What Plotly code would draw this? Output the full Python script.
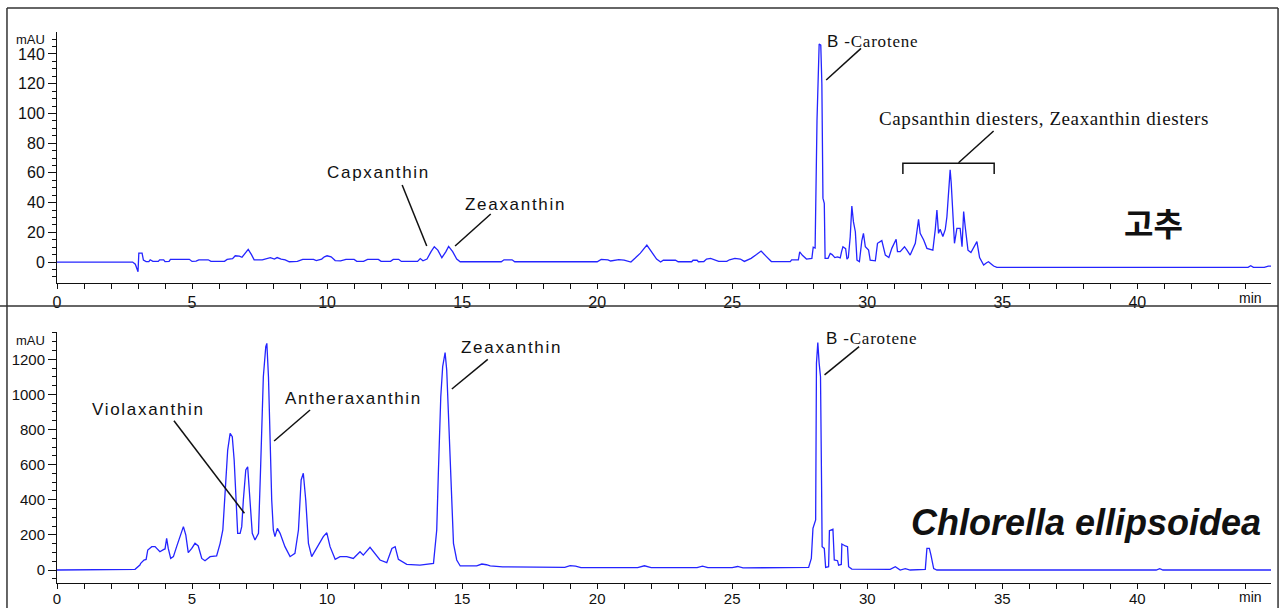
import plotly.graph_objects as go

# --- Chromatogram of red pepper extract (고추), absorbance in mAU ---
time_pepper = [
    0, 2.8, 2.9, 3.0, 3.03, 3.15, 3.2, 3.3, 3.4, 3.45, 3.55, 3.75, 3.8, 3.95, 4.0, 4.15, 4.2, 4.9,
    5.0, 5.15, 5.25, 5.6, 5.7, 6.2, 6.3, 6.5, 6.6, 6.75, 6.85, 7.0, 7.08, 7.2, 7.3, 7.6, 7.75, 7.9,
    8.05, 8.15, 8.3, 8.45, 8.6, 8.9, 9.1, 9.5, 9.6, 9.8, 9.9, 10.0, 10.15, 10.3, 10.5, 10.7, 11.0,
    11.1, 11.35, 11.5, 11.9, 12.0, 12.35, 12.45, 12.65, 12.75, 13.35, 13.45, 13.55, 13.7, 13.85,
    13.97, 14.1, 14.25, 14.4, 14.5, 14.65, 14.8, 14.93, 16.45, 16.55, 16.85, 16.95, 20.0, 20.15,
    20.4, 20.5, 20.8, 21.0, 21.25, 21.4, 21.6, 21.84, 22.0, 22.2, 22.35, 22.45, 22.9, 23.0, 23.5,
    23.55, 23.7, 23.75, 23.95, 24.05, 24.2, 24.4, 24.5, 24.8, 24.9, 25.1, 25.3, 25.45, 25.7, 25.9,
    26.07, 26.25, 26.45, 27.15, 27.2, 27.45, 27.5, 27.6, 27.75, 27.95, 28.0, 28.07, 28.14, 28.22,
    28.28, 28.32, 28.36, 28.41, 28.44, 28.55, 28.63, 28.7, 28.8, 28.9, 29.0, 29.05, 29.1, 29.2,
    29.25, 29.3, 29.37, 29.43, 29.49, 29.56, 29.62, 29.71, 29.8, 29.86, 29.93, 30.05, 30.11, 30.3,
    30.38, 30.54, 30.67, 30.8, 30.91, 31.07, 31.12, 31.22, 31.38, 31.47, 31.59, 31.78, 31.9, 31.96,
    32.09, 32.21, 32.43, 32.52, 32.58, 32.64, 32.7, 32.8, 32.89, 32.95, 33.04, 33.07, 33.11, 33.17,
    33.23, 33.32, 33.44, 33.51, 33.57, 33.63, 33.73, 33.84, 33.96, 34.06, 34.16, 34.31, 34.42,
    34.49, 34.6, 34.68, 34.8, 44.1, 44.2, 44.3, 44.7, 44.85, 44.95,
]
abs_pepper = [
    0, 0, -1.5, -6.5, 6, 6, 1.3, 0.3, 0.3, 1.5, 0.4, 0.4, 1.5, 1.5, 0.3, 0.4, 1.8, 1.8,
    0.4, 0.6, 1.5, 1.5, 0.4, 0.5, 1.8, 2.3, 4.2, 4.0, 3.2, 6.5, 8.5, 5, 1.5, 1.5, 2.5, 3,
    2, 3, 2, 1.5, 0.2, 0.4, 1.8, 1.8, 1.0, 2, 3.5, 4.2, 3.5, 1.0, 0.8, 1.8, 1.8,
    0.5, 0.5, 1.8, 1.8, 0.5, 0.5, 1.8, 1.8, 0.4, 0.4, 2.3, 0.8, 2, 7,
    10.3, 8, 2.9, 7, 10.5, 7, 2, 0.2, 0.2, 1.5, 1.5, 0.2, 0.2, 1.8,
    1.5, 0.7, 1.6, 1.3, 0, 2.5, 6, 11.4, 7, 2, 0, 1.2, 1.2, 0.2, 0.2,
    1.2, 1.2, 0.2, 0.3, 2, 2.5, 1.5, 0.5, 0.5, 1.5, 2.5, 2, 0.4, 2.5, 5,
    7.4, 4, 0.3, 0.3, 1.5, 1.5, 6.8, 4.5, 2, 2.5, 10, 9.4, 95, 146.7,
    146, 120, 43, 39.5, 2.5, 2.5, 5.8, 5, 3, 3.5, 2.8, 7, 10.3, 9,
    2, 3, 17, 37.7, 27, 20.4, 1.3, 0.2, 14.4, 19.3, 10.3, 8, 1.3, 0.8,
    12.6, 14.4, 4.7, 3, 9.2, 15.3, 7, 7, 10.3, 8, 4.7, 12.6, 28.7, 19.3,
    14.8, 9.2, 8, 22, 35, 19.3, 22, 17.2, 22, 30.5, 54, 62, 53, 30.5,
    12.6, 22.7, 22.7, 10.3, 33.9, 23.4, 8, 6.4, 11, 13.7, 3, -2, -0.5,
    0.2, -1.5, -2.7, -3.6, -3.6, -2.5, -3.6, -3.6, -2.7, -2.7,
]

# --- Chromatogram of Chlorella ellipsoidea extract, absorbance in mAU ---
time_chlorella = [
    0, 2.85, 2.89, 3.07, 3.1, 3.22, 3.3, 3.36, 3.51, 3.63, 3.72, 3.81, 3.94, 4.0, 4.06, 4.12, 4.21,
    4.31, 4.43, 4.56, 4.68, 4.77, 4.86, 4.99, 5.11, 5.23, 5.36, 5.48, 5.67, 5.91, 6.04, 6.14, 6.25,
    6.32, 6.41, 6.49, 6.56, 6.63, 6.69, 6.78, 6.84, 6.9, 6.99, 7.06, 7.15, 7.23, 7.33, 7.46, 7.54,
    7.64, 7.73, 7.77, 7.83, 7.89, 7.95, 8.01, 8.07, 8.16, 8.26, 8.44, 8.63, 8.81, 8.94, 9.04, 9.12,
    9.21, 9.31, 9.43, 9.62, 9.86, 9.99, 10.11, 10.3, 10.48, 10.73, 10.97, 11.22, 11.34, 11.59,
    11.78, 11.96, 12.21, 12.4, 12.52, 12.64, 12.95, 13.44, 13.94, 14.06, 14.12, 14.21, 14.28,
    14.37, 14.43, 14.52, 14.59, 14.68, 14.8, 14.93, 15.54, 15.73, 15.9, 16.04, 16.5, 18.8, 19.0,
    19.2, 19.4, 21.5, 21.75, 22.0, 23.7, 23.9, 24.1, 25.0, 25.2, 25.4, 27.83, 27.93, 27.99, 28.09,
    28.12, 28.17, 28.22, 28.27, 28.31, 28.33, 28.41, 28.46, 28.57, 28.6, 28.73, 28.78, 28.9, 28.94,
    29.04, 29.06, 29.19, 29.27, 29.31, 29.43, 30.85, 31.04, 31.22, 31.41, 31.59, 32.15, 32.21,
    32.3, 32.36, 32.46, 32.58, 40.7, 40.83, 40.95, 44.95,
]
abs_chlorella = [
    0, 0, 4, 28, 38, 57, 60, 114, 133, 133, 118, 104, 116, 120, 180, 123, 66,
    76, 133, 190, 247, 199, 99, 123, 152, 137, 66, 53, 76, 80, 152, 228, 494,
    683, 778, 759, 626, 437, 209, 209, 247, 399, 570, 588, 399, 209, 171, 209, 588,
    1101, 1272, 1291, 1101, 778, 399, 228, 190, 237, 209, 133, 76, 95, 228, 513, 551,
    399, 152, 76, 123, 190, 212, 133, 61, 76, 76, 66, 104, 85, 129,
    95, 57, 42, 123, 133, 61, 32, 28, 38, 228, 551, 987, 1158,
    1238, 1139, 816, 475, 152, 57, 23, 23, 34, 30, 23, 18, 15, 25,
    22, 14, 14, 24, 14, 14, 22, 14, 14, 20, 12, 15, 66, 237, 285,
    1177, 1295, 1177, 1101, 475, 133, 123, 15, 19, 224, 232, 57, 53, 28,
    32, 148, 137, 133, 19, 5, 4, 19, 0, 8, 0, 4, 123,
    123, 85, 8, 0, 0, 8, 0, 0,
]

TRACE = "#2424ff"
INK = "#111111"
FRAME = "#333333"

fig = go.Figure()
fig.add_trace(go.Scatter(
    x=time_pepper, y=abs_pepper, mode="lines", xaxis="x", yaxis="y",
    line=dict(color=TRACE, width=1.3), showlegend=False, hoverinfo="skip",
))
fig.add_trace(go.Scatter(
    x=time_chlorella, y=abs_chlorella, mode="lines", xaxis="x2", yaxis="y2",
    line=dict(color=TRACE, width=1.3), showlegend=False, hoverinfo="skip",
))


def x_axis(anchor, size, standoff):
    return dict(
        domain=[0, 1], anchor=anchor, range=[0, 44.95], automargin=False,
        tickmode="linear", tick0=0, dtick=5, ticklabelstandoff=standoff,
        showline=True, linecolor=INK, linewidth=1,
        ticks="outside", ticklen=5, tickcolor=INK,
        minor=dict(dtick=1, tick0=0, ticks="outside", ticklen=5, tickcolor=INK),
        showgrid=False, zeroline=False,
        tickfont=dict(family="Liberation Sans, Arial, sans-serif", size=size, color=INK),
    )


def y_axis(anchor, domain, rng, major, minor, size):
    return dict(
        domain=domain, anchor=anchor, range=rng, automargin=False,
        tickmode="linear", tick0=0, dtick=major,
        showline=True, linecolor=INK, linewidth=1,
        ticks="outside", ticklen=8, tickcolor=INK,
        minor=dict(dtick=minor, tick0=0, ticks="outside", ticklen=4, tickcolor=INK),
        showgrid=False, zeroline=False,
        tickfont=dict(family="Liberation Sans, Arial, sans-serif", size=size, color=INK),
    )


fig.update_layout(
    width=1279, height=608,
    margin=dict(l=57, r=8, t=32, b=25, autoexpand=False),
    paper_bgcolor="white", plot_bgcolor="white",
    xaxis=x_axis("y", 16, 0),
    yaxis=y_axis("x", [0.5445, 1], [-14.1, 154.8], 20, 5, 16),
    xaxis2=x_axis("y2", 15, -3),
    yaxis2=y_axis("x2", [0, 0.456], [-74, 1357], 200, 50, 15),
)

SANS = "Liberation Sans, Arial, sans-serif"
SERIF = "Liberation Serif, Times New Roman, serif"


def spaced(txt, px):
    return f"<span style='letter-spacing:{px}px'>{txt}</span>"


def label(text, x, y, xref, yref, font, size, **kw):
    fig.add_annotation(text=text, x=x, y=y, xref=xref, yref=yref, showarrow=False,
                       yanchor="middle",
                       font=dict(family=font, size=size, color=INK), **kw)


def leader(x0, y0, x1, y1, xref, yref):
    fig.add_shape(type="line", x0=x0, y0=y0, x1=x1, y1=y1, xref=xref, yref=yref,
                  line=dict(color=INK, width=1.5))


# Pepper panel labels
label(spaced("Capxanthin", 1.7), 11.89, 60.5, "x", "y", SANS, 17)
leader(12.78, 51.8, 13.69, 10.8, "x", "y")
label(spaced("Zeaxanthin", 1.7), 16.99, 38.8, "x", "y", SANS, 17)
leader(16.06, 32.3, 14.74, 10.8, "x", "y")
label(spaced("<span style='font-family:Liberation Sans'>B</span> -Carotene", 0.8),
      30.19, 148.1, "x", "y", SERIF, 17)
leader(29.77, 143.8, 28.48, 122.5, "x", "y")
label(spaced("Capsanthin diesters, Zeaxanthin diesters", 0.6), 36.54, 96.5, "x", "y", SERIF, 19)
fig.add_shape(type="path", path="M 31.32 59.2 L 31.32 66.4 L 34.7 66.4 L 34.7 59.2",
              xref="x", yref="y", line=dict(color=INK, width=1.5))
leader(33.38, 66.8, 34.68, 88.2, "x", "y")
label("<b>고추</b>", 40.59, 26.9, "x", "y", "Noto Sans CJK KR", 32)
label("mAU", -0.0082, 149.5, "paper", "y", SANS, 13, xanchor="right")
label("min", 44.19, 0.5172, "x", "paper", SANS, 14)

# Chlorella panel labels
label(spaced("Violaxanthin", 1.7), 3.37, 915, "x2", "y2", SANS, 17)
leader(4.33, 850, 6.94, 323, "x2", "y2")
label(spaced("Antheraxanthin", 1.6), 10.99, 978, "x2", "y2", SANS, 17)
leader(9.37, 911, 8.04, 735, "x2", "y2")
label(spaced("Zeaxanthin", 1.7), 16.83, 1266, "x2", "y2", SANS, 17)
leader(15.95, 1200, 14.62, 1031, "x2", "y2")
label(spaced("<span style='font-family:Liberation Sans'>B</span> -Carotene", 0.8),
      30.15, 1321, "x2", "y2", SERIF, 17)
leader(29.7, 1272, 28.42, 1111, "x2", "y2")
label("<b><i>Chlorella ellipsoidea</i></b>", 38.11, 273, "x2", "y2", SANS, 36)
label("mAU", -0.0082, 1308, "paper", "y2", SANS, 13, xanchor="right")
label("min", 44.19, -0.025, "x", "paper", SANS, 14)

# Outer frame and the divider between the two panels
frame = dict(color=FRAME, width=1.5)
fig.add_shape(type="line", xref="paper", yref="paper", x0=-0.0412, x1=-0.0412, y0=-0.06, y1=1.0436, line=frame)
fig.add_shape(type="line", xref="paper", yref="paper", x0=-0.0412, x1=1.0058, y0=1.0436, y1=1.0436, line=frame)
fig.add_shape(type="line", xref="paper", yref="paper", x0=1.0058, x1=1.0058, y0=-0.06, y1=1.0436, line=frame)
fig.add_shape(type="line", xref="paper", yref="paper", x0=-0.05, x1=1.0058, y0=0.5027, y1=0.5027, line=frame)

fig.write_html("out.html")
